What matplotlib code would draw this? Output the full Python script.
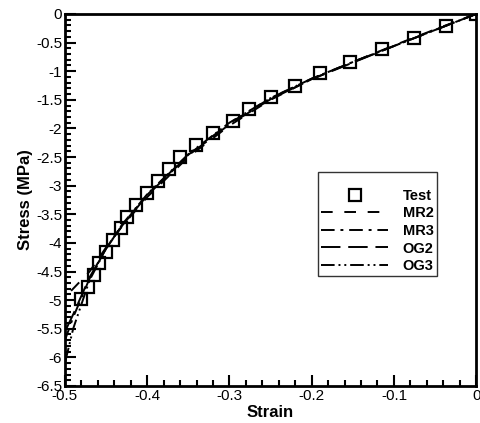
import numpy as np
import matplotlib.pyplot as plt
from matplotlib.ticker import MultipleLocator, FuncFormatter

plt.rcParams['font.family'] = ['Liberation Sans', 'DejaVu Sans']
plt.rcParams['axes.unicode_minus'] = False

# test data (compression)
test_strain = [0.0, -0.0365, -0.0754, -0.114, -0.153, -0.19, -0.22, -0.25, -0.276,
               -0.296, -0.32, -0.341, -0.36, -0.373, -0.387, -0.40, -0.413, -0.424,
               -0.432, -0.441, -0.45, -0.458, -0.465, -0.472, -0.48]
test_stress = [0.0, -0.21, -0.42, -0.61, -0.84, -1.03, -1.26, -1.45, -1.66,
               -1.87, -2.08, -2.29, -2.50, -2.71, -2.92, -3.13, -3.34, -3.55,
               -3.74, -3.95, -4.16, -4.35, -4.56, -4.77, -4.98]

# fitted models
model_strain = [0.0, -0.05, -0.1, -0.15, -0.2, -0.25, -0.3, -0.35, -0.4,
                -0.43, -0.45, -0.47, -0.49, -0.5]
mr2_stress = [0.0, -0.27, -0.55, -0.84, -1.14, -1.50, -1.95, -2.50, -3.20,
              -3.70, -4.08, -4.50, -4.80, -4.95]
mr3_stress = [0.0, -0.28, -0.56, -0.84, -1.13, -1.47, -1.91, -2.46, -3.16,
              -3.68, -4.10, -4.62, -5.30, -5.70]
og2_stress = [0.0, -0.28, -0.56, -0.85, -1.14, -1.49, -1.93, -2.47, -3.17,
              -3.69, -4.10, -4.60, -5.25, -5.55]
og3_stress = [0.0, -0.28, -0.56, -0.84, -1.13, -1.47, -1.90, -2.45, -3.15,
              -3.67, -4.10, -4.65, -5.50, -6.10]


def tick_fmt(v, pos):
    v = round(v, 6)
    if v == 0:
        return '0'
    return '%g' % v


fig = plt.figure(figsize=(4.81, 4.23), dpi=100)
ax = fig.add_axes([0.135, 0.0875, 0.855, 0.8795])

ax.plot(test_strain, test_stress, 's', ms=8, mfc='none', mec='black', mew=1.6,
        ls='none', label='Test', zorder=5)
ax.plot(model_strain, mr2_stress, color='black', lw=1.4, dashes=(6, 6), label='MR2')
ax.plot(model_strain, mr3_stress, color='black', lw=1.4, dashes=(7, 3, 1.5, 3), label='MR3')
ax.plot(model_strain, og2_stress, color='black', lw=1.4, dashes=(10, 4), label='OG2')
ax.plot(model_strain, og3_stress, color='black', lw=1.4,
        dashes=(7, 2, 1, 2, 1, 2), label='OG3')

ax.set_xlim(-0.5, 0)
ax.set_ylim(-6.5, 0)
ax.xaxis.set_major_locator(MultipleLocator(0.1))
ax.xaxis.set_minor_locator(MultipleLocator(0.02))
ax.yaxis.set_major_locator(MultipleLocator(0.5))
ax.yaxis.set_minor_locator(MultipleLocator(0.1))
ax.xaxis.set_major_formatter(FuncFormatter(tick_fmt))
ax.yaxis.set_major_formatter(FuncFormatter(tick_fmt))
ax.tick_params(which='both', direction='in', width=1.5, labelsize=11)
ax.tick_params(which='major', length=8)
ax.tick_params(which='minor', length=4)
ax.tick_params(axis='x', which='major', pad=2.5)
ax.tick_params(axis='y', which='major', pad=2)
for s in ax.spines.values():
    s.set_linewidth(2)

ax.set_xlabel('Strain', fontsize=12, fontweight='bold', labelpad=1)
ax.set_ylabel('Stress (MPa)', fontsize=12, fontweight='bold', labelpad=2)

leg = ax.legend(loc='upper left', bbox_to_anchor=(0.616, 0.575), title=' ',
                title_fontsize=8, prop={'weight': 'bold', 'size': 10.5},
                frameon=True, fancybox=False, handlelength=4.6,
                handletextpad=1.0, labelspacing=0.25, borderpad=0.2,
                borderaxespad=0)
leg.get_frame().set_edgecolor('black')
leg.get_frame().set_linewidth(1)

fig.savefig('out.png', dpi=100)
